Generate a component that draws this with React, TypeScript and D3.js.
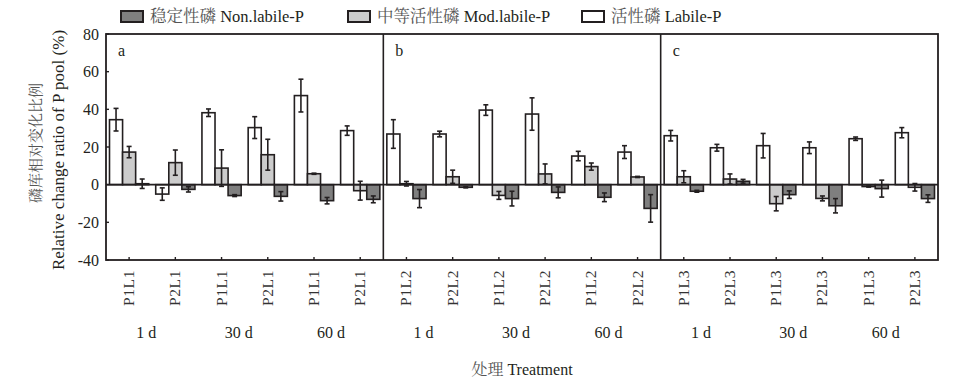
import React from "react";
import * as d3 from "d3";

const panels = ["a", "b", "c"];
const days = ["1 d", "30 d", "60 d"];
const treatments = [
  "P1L1", "P2L1", "P1L1", "P2L1", "P1L1", "P2L1",
  "P1L2", "P2L2", "P1L2", "P2L2", "P1L2", "P2L2",
  "P1L3", "P2L3", "P1L3", "P2L3", "P1L3", "P2L3",
];

// 活性磷 Labile-P
const labile = [34.5, -5, 38.2, 30.3, 47.3, 28.7, 26.9, 26.9, 39.6, 37.5, 15.2, 17.3, 26, 19.6, 20.7, 19.6, 24.4, 27.6];
const labileErr = [6, 3.3, 2, 5.8, 8.7, 2.5, 7.6, 1.5, 2.8, 8.6, 2.5, 3.4, 2.8, 1.8, 6.5, 3.1, 0.9, 2.7];
// 中等活性磷 Mod.labile-P
const modLabile = [17.3, 11.7, 8.8, 15.9, 5.8, -3.2, 0.5, 4.2, -5.7, 5.7, 9.6, 4.1, 4.2, 3, -10.1, -7.3, -1, -1.4];
const modErr = [3, 6.7, 9.7, 8.2, 0.3, 5, 1.2, 3.5, 2.1, 5.3, 1.9, 0.3, 3.2, 2.7, 3.8, 1.3, 0.3, 2];
// 稳定性磷 Non.labile-P
const nonLabile = [0.5, -2.5, -5.8, -6.2, -8.5, -7.8, -7.4, -1.4, -7.4, -4.1, -6.7, -12.6, -3.5, 1.8, -5.3, -11.2, -2.1, -7.4];
const nonErr = [2.5, 1.4, 0.5, 2.5, 1.7, 1.8, 4.8, 0.3, 3.9, 2.9, 2.3, 7.3, 0.5, 1, 2, 3.8, 4.5, 2];

const yTicks = [80, 60, 40, 20, 0, -20, -40];

const series = [
  { key: "labile", cn: "活性磷", en: "Labile-P", values: labile, errs: labileErr, fill: "#ffffff" },
  { key: "mod", cn: "中等活性磷", en: "Mod.labile-P", values: modLabile, errs: modErr, fill: "#cccccc" },
  { key: "non", cn: "稳定性磷", en: "Non.labile-P", values: nonLabile, errs: nonErr, fill: "#7f7f7f" },
];

const ink = "#231f20";
const font = "'Liberation Serif', 'Times New Roman', 'Noto Serif CJK SC', 'Noto Sans CJK SC', serif";

const left = 106, right = 938, top = 34, bottom = 260;

export default function App() {
  const x = d3.scaleBand<number>().domain(d3.range(treatments.length)).range([left, right]).padding(0);
  const bw = x.bandwidth();
  const xs = d3.scaleBand<string>().domain(series.map((s) => s.key)).range([3.5, bw - 3.5]).padding(0);
  const y = d3.scaleLinear().domain([-40, 80]).range([bottom, top]);
  const panelW = bw * 6;

  const legendItems = [
    { s: series[2], x: 121 },
    { s: series[1], x: 348 },
    { s: series[0], x: 582 },
  ];

  return (
    <svg width={956} height={391} style={{ position: "absolute", left: 0, top: 0, background: "#fff" }} fontFamily={font}>
      {/* legend */}
      {legendItems.map(({ s, x: lx }) => (
        <g key={s.key}>
          <rect x={lx} y={11} width={22} height={11} fill={s.fill} stroke={ink} strokeWidth={2} />
          <text x={lx + 29} y={22} fontSize={16.5} fill={ink}>
            <tspan fill="#555">{s.cn}</tspan> {s.en}
          </text>
        </g>
      ))}

      {/* bars */}
      {series.map((s) =>
        s.values.map((v, i) => {
          const bx = (x(i) as number) + (xs(s.key) as number);
          const w = xs.bandwidth();
          const y0 = y(Math.max(0, v));
          const h = Math.abs(y(v) - y(0));
          const cx = bx + w / 2;
          const e = s.errs[i];
          return (
            <g key={s.key + i}>
              <rect x={bx} y={y0} width={w} height={h} fill={s.fill} stroke={ink} strokeWidth={1.6} />
              <line x1={cx} x2={cx} y1={y(v + e)} y2={y(v - e)} stroke={ink} strokeWidth={1.6} />
              <line x1={cx - 2.5} x2={cx + 2.5} y1={y(v + e)} y2={y(v + e)} stroke={ink} strokeWidth={1.6} />
              <line x1={cx - 2.5} x2={cx + 2.5} y1={y(v - e)} y2={y(v - e)} stroke={ink} strokeWidth={1.6} />
            </g>
          );
        })
      )}

      {/* zero line */}
      <line x1={left} x2={right} y1={y(0)} y2={y(0)} stroke={ink} strokeWidth={1.6} />

      {/* frame and panel dividers */}
      <rect x={left} y={top} width={right - left} height={bottom - top} fill="none" stroke={ink} strokeWidth={1.8} />
      {[1, 2].map((p) => (
        <line key={p} x1={left + panelW * p} x2={left + panelW * p} y1={top} y2={bottom} stroke={ink} strokeWidth={1.6} />
      ))}

      {/* panel letters */}
      {panels.map((p, k) => (
        <text key={p} x={left + panelW * k + 12} y={56} fontSize={16} fill={ink}>{p}</text>
      ))}

      {/* y axis */}
      {yTicks.map((t) => (
        <g key={t}>
          <line x1={left} x2={left + 3} y1={y(t)} y2={y(t)} stroke={ink} strokeWidth={1.4} />
          <text x={99} y={y(t)} dy="0.35em" fontSize={16} textAnchor="end" fill={ink}>{t}</text>
        </g>
      ))}
      <text transform={`translate(41,143) rotate(-90)`} fontSize={15} textAnchor="middle" fill="#555">磷库相对变化比例</text>
      <text transform={`translate(64,150) rotate(-90)`} fontSize={17} textAnchor="middle" fill={ink}>Relative change ratio of P pool (%)</text>

      {/* x axis */}
      {treatments.map((t, i) => {
        const cx = (x(i) as number) + bw / 2;
        return (
          <g key={i}>
            <line x1={cx} x2={cx} y1={bottom} y2={bottom - 3} stroke={ink} strokeWidth={1.4} />
            <text transform={`translate(${cx + 5},270) rotate(-90)`} fontSize={15.5} textAnchor="end" letterSpacing={0.6} fill="#333">{t}</text>
          </g>
        );
      })}
      {panels.map((p, k) =>
        days.map((d, j) => {
          const gi = k * 6 + j * 2;
          const mid = (x(gi) as number) + bw;
          return (
            <text key={p + d} x={mid - 6} y={338} fontSize={16} textAnchor="middle" fill={ink}>{d}</text>
          );
        })
      )}
      <text x={(left + right) / 2} y={375} fontSize={16} textAnchor="middle" fill={ink}>
        <tspan fill="#555">处理</tspan> Treatment
      </text>
    </svg>
  );
}
